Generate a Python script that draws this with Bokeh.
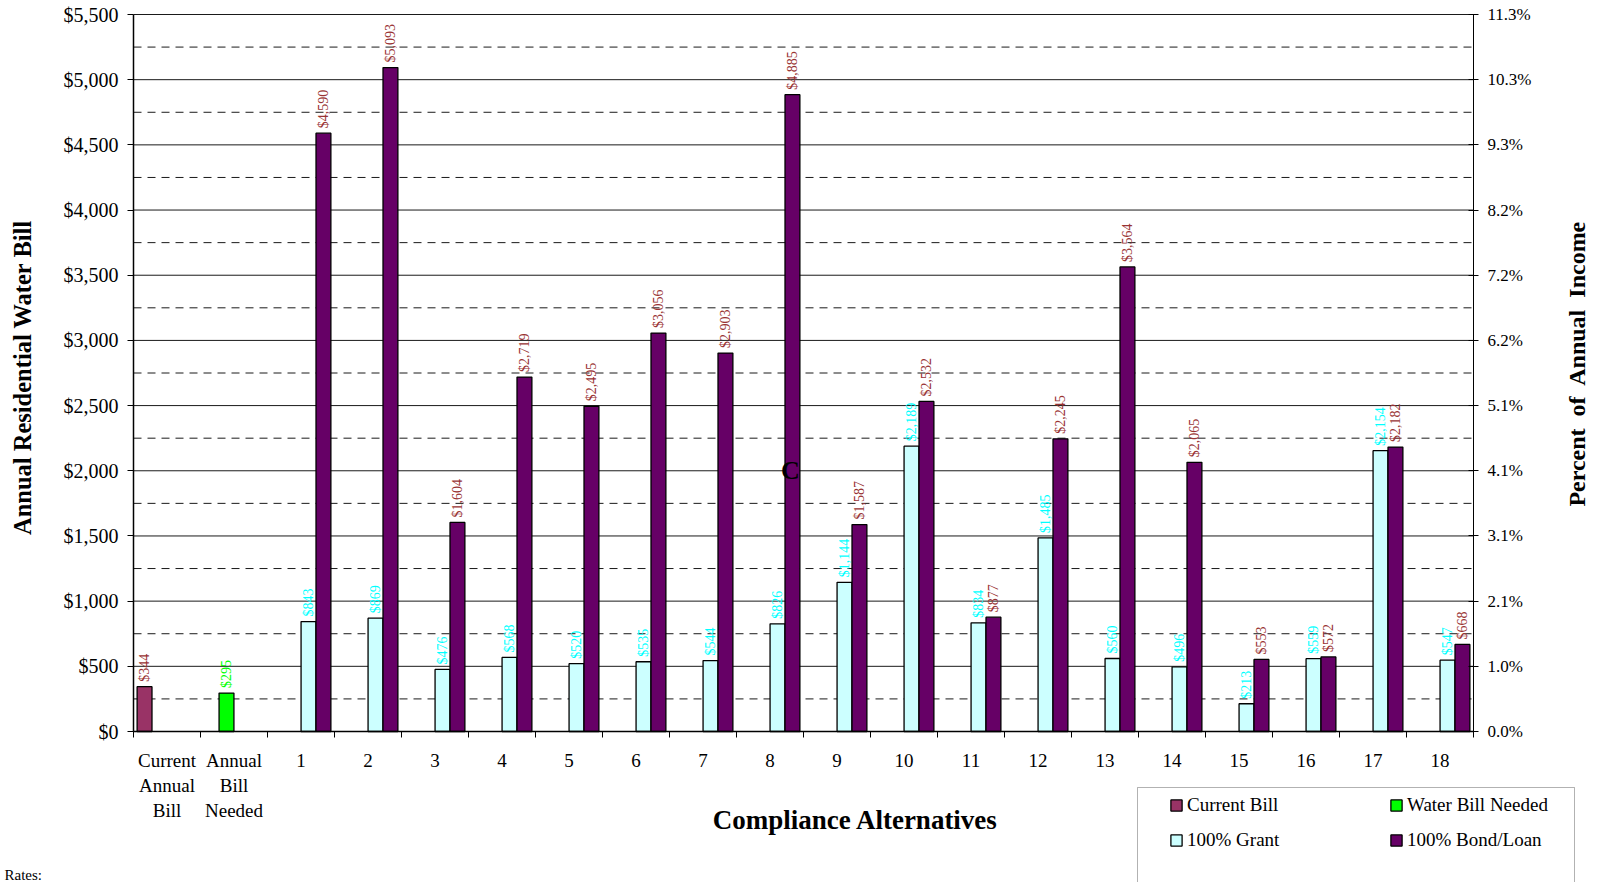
import math
from bokeh.plotting import figure
from bokeh.models import (Range1d, LinearAxis, FixedTicker, NumeralTickFormatter, Label,
                          Legend, LegendItem, BoxAnnotation, ColumnDataSource)
from bokeh.core.properties import value
from bokeh.embed import file_html
from bokeh.resources import INLINE

# ---------------- data ----------------
categories = ["Current\nAnnual\nBill", "Annual\nBill\nNeeded"] + [str(i) for i in range(1, 19)]
current_bill = [344]
bill_needed = [295]
grant = [843, 869, 476, 568, 520, 535, 544, 826, 1144, 2189, 834, 1485, 560, 496, 213, 559, 2154, 547]
bond = [4590, 5093, 1604, 2719, 2495, 3056, 2903, 4885, 1587, 2532, 877, 2245, 3564, 2065, 553, 572, 2182, 668]
y_ticks = list(range(0, 5501, 500))
y_minor = list(range(250, 5500, 500))
pct_labels = ["0.0%", "1.0%", "2.1%", "3.1%", "4.1%", "5.1%", "6.2%", "7.2%", "8.2%", "9.3%", "10.3%", "11.3%"]

# ---------------- layout constants ----------------
W, H = 1598, 882
FL, FR, FT, FB = 133, 1473, 14, 731   # plot area in pixels
YMAX = 5500
NCAT = len(categories)
FONT = "Liberation Serif"

def dx(px):
    return (px - FL) / ((FR - FL) / NCAT)

def dy(py):
    return (FB - py) * YMAX / (FB - FT)

# the frame covers the whole canvas; axes are pinned at the plot-area edges
p = figure(width=W, height=H, x_range=Range1d(dx(0), dx(W)), y_range=Range1d(dy(H), dy(0)),
           output_backend="svg", toolbar_location=None, x_axis_type=None, y_axis_type=None,
           min_border=0, min_border_left=0, min_border_right=0, min_border_top=0, min_border_bottom=0,
           background_fill_color="white", border_fill_color="white", outline_line_color=None)
p.grid.visible = False

# ---------------- grid lines ----------------
p.segment(x0=0, x1=NCAT, y0=y_ticks, y1=y_ticks, line_color="#1a1a1a", line_width=1)
p.segment(x0=0, x1=NCAT, y0=y_minor, y1=y_minor, line_color="#1a1a1a", line_width=1, line_dash="8 6")

# ---------------- axes ----------------
xax = LinearAxis(fixed_location=0, bounds=(0, NCAT),
                 ticker=FixedTicker(ticks=[i + 0.5 for i in range(NCAT)], minor_ticks=list(range(NCAT + 1))),
                 major_label_overrides={i + 0.5: c for i, c in enumerate(categories)})
xax.major_tick_out = 0
xax.major_tick_in = 0
xax.minor_tick_out = 6
xax.minor_tick_in = 0
xax.minor_tick_line_color = "black"
xax.major_label_standoff = 12
xax.major_label_text_font = FONT
xax.major_label_text_font_size = "19px"
xax.major_label_text_color = "black"
xax.axis_line_color = "black"
xax.axis_line_width = 1.5
p.add_layout(xax, "below")

yax = LinearAxis(fixed_location=0, bounds=(0, YMAX), ticker=FixedTicker(ticks=y_ticks, minor_ticks=y_minor),
                 formatter=NumeralTickFormatter(format="$0,0"))
yax.major_tick_out = 6
yax.major_tick_in = 0
yax.minor_tick_out = 0
yax.minor_tick_in = 0
yax.major_label_standoff = 9
yax.major_label_text_font = FONT
yax.major_label_text_font_size = "20px"
yax.major_label_text_color = "black"
yax.axis_line_color = "black"
yax.axis_line_width = 1.5
yax.major_tick_line_color = "black"
p.add_layout(yax, "left")

rax = LinearAxis(fixed_location=NCAT, bounds=(0, YMAX), ticker=FixedTicker(ticks=y_ticks),
                 major_label_overrides={t: l for t, l in zip(y_ticks, pct_labels)})
rax.major_tick_out = 5
rax.major_tick_in = 5
rax.minor_tick_out = 0
rax.minor_tick_in = 0
rax.major_label_standoff = 9
rax.major_label_text_font = FONT
rax.major_label_text_font_size = "17px"
rax.major_label_text_color = "black"
rax.axis_line_color = "black"
p.add_layout(rax, "right")

# ---------------- bars ----------------
slot = [-0.335, -0.112, 0.112, 0.335]
bw = 0.222
alt_idx = list(range(2, NCAT))

x_cur = [0 + 0.5 + slot[0]]
x_need = [1 + 0.5 + slot[1]]
x_grant = [i + 0.5 + slot[2] for i in alt_idx]
x_bond = [i + 0.5 + slot[3] for i in alt_idx]

bar_kw = dict(width=bw, bottom=0, line_color="black", line_width=1.3)
r_cur = p.vbar(x=x_cur, top=current_bill, fill_color="#993366", **bar_kw)
r_need = p.vbar(x=x_need, top=bill_needed, fill_color="#00FF00", **bar_kw)
r_grant = p.vbar(x=x_grant, top=grant, fill_color="#CCFFFF", **bar_kw)
r_bond = p.vbar(x=x_bond, top=bond, fill_color="#660066", **bar_kw)

gap = 5 * YMAX / (FB - FT)

def money(v):
    return "${:,}".format(v)

def add_labels(xs, vals, color):
    src = ColumnDataSource(dict(x=xs, y=[v + gap for v in vals], t=[money(v) for v in vals]))
    p.text(x="x", y="y", text="t", source=src, angle=math.pi / 2, text_align="left",
           text_baseline="middle", text_font=value(FONT), text_font_size="14px", text_color=color)

add_labels(x_cur, current_bill, "#993333")
add_labels(x_need, bill_needed, "#00FF00")
add_labels(x_grant, grant, "#00FFFF")
add_labels(x_bond, bond, "#993333")

# ---------------- annotations ----------------
p.add_layout(Label(x=9 + 0.5 + slot[3] - 0.03, y=2000, text="C", text_align="center", text_baseline="middle",
                   text_font=FONT, text_font_size="26px", text_font_style="bold", text_color="black"))

p.add_layout(Label(x=dx(22), y=dy(377), text="Annual Residential Water Bill", angle=math.pi / 2,
                   text_align="center", text_baseline="middle", text_font=FONT,
                   text_font_size="24.5px", text_font_style="bold", text_color="black"))
p.add_layout(Label(x=dx(1576), y=dy(363), text="Percent\u00a0 of\u00a0 Annual\u00a0 Income", angle=math.pi / 2,
                   text_align="center", text_baseline="middle", text_font=FONT,
                   text_font_size="24px", text_font_style="bold", text_color="black"))
p.add_layout(Label(x=dx(855), y=dy(819), text="Compliance Alternatives",
                   text_align="center", text_baseline="middle", text_font=FONT,
                   text_font_size="27px", text_font_style="bold", text_color="black"))
p.add_layout(Label(x=dx(4), y=dy(874), text="Rates:", text_align="left", text_baseline="middle",
                   text_font=FONT, text_font_size="15px", text_color="black"))

# ---------------- legend ----------------
p.add_layout(BoxAnnotation(left=dx(1137), right=dx(1574), top=dy(787), bottom=dy(900),
                           fill_alpha=0, line_color="black", line_width=1))

legend = Legend(items=[LegendItem(label="Current Bill", renderers=[r_cur]),
                       LegendItem(label="Water Bill Needed", renderers=[r_need]),
                       LegendItem(label="100% Grant", renderers=[r_grant]),
                       LegendItem(label="100% Bond/Loan", renderers=[r_bond])],
                location=(1169, 31), orientation="horizontal", ncols=2,
                glyph_width=14, glyph_height=14, label_height=14, label_width=189,
                label_standoff=4, spacing=13, padding=0, margin=0,
                border_line_alpha=0, background_fill_alpha=0,
                label_text_font=FONT, label_text_font_size="19px", label_text_color="black")
p.add_layout(legend, "center")

open("out.html", "w").write(file_html(p, INLINE))
